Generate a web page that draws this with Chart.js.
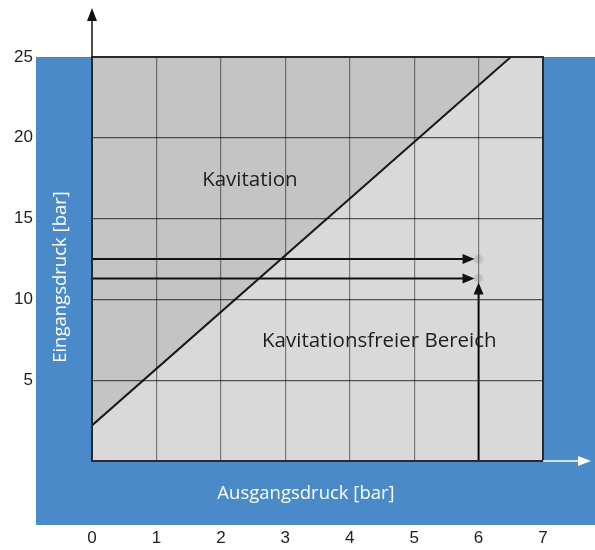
<!DOCTYPE html>
<html>
<head>
<meta charset="utf-8">
<script src="https://cdn.jsdelivr.net/npm/chart.js@4.4.1/dist/chart.umd.min.js"></script>
<style>
  body { margin: 0; background: #fff; }
  #wrap { width: 595px; height: 550px; }
</style>
</head>
<body>
<div id="wrap"><canvas id="chart" width="595" height="550"></canvas></div>
<script>
// axis ticks
var xTicks = [0, 1, 2, 3, 4, 5, 6, 7];
var yTicks = [5, 10, 15, 20, 25];

// cavitation boundary (Ausgangsdruck -> Eingangsdruck)
var boundaryX = [0, 6.5];
var boundaryY = [2.2, 25];

// example reading: outlet pressure 6 bar, two inlet levels
var readX = 6;
var readLevels = [12.5, 11.3];

var BLUE = '#4a8ac9';

var areaPlugin = {
    id: 'area',
    beforeDraw: function (chart) {
        var c = chart.ctx, a = chart.chartArea;
        c.save();
        c.fillStyle = BLUE;
        c.fillRect(a.left - 56, a.top, chart.width - (a.left - 56), a.bottom - a.top + 64);
        c.fillStyle = '#d9d9d9';
        c.fillRect(a.left, a.top, a.right - a.left, a.bottom - a.top);
        c.restore();
    },
    afterDraw: function (chart) {
        var c = chart.ctx, a = chart.chartArea;
        var xs = chart.scales.x, ys = chart.scales.y;
        c.save();
        // plot frame
        c.strokeStyle = '#2a2a2a';
        c.lineWidth = 2;
        c.strokeRect(a.left, a.top, a.right - a.left, a.bottom - a.top);

        // y axis arrow (black, upwards)
        c.fillStyle = '#111';
        c.strokeStyle = '#111';
        c.lineWidth = 1.5;
        c.beginPath();
        c.moveTo(a.left, a.top);
        c.lineTo(a.left, 20);
        c.stroke();
        c.beginPath();
        c.moveTo(a.left, 8);
        c.lineTo(a.left - 5, 21);
        c.lineTo(a.left + 5, 21);
        c.closePath();
        c.fill();

        // x axis arrow (white, right)
        c.fillStyle = '#fff';
        c.strokeStyle = '#fff';
        c.beginPath();
        c.moveTo(a.right, a.bottom);
        c.lineTo(578, a.bottom);
        c.stroke();
        c.beginPath();
        c.moveTo(591, a.bottom);
        c.lineTo(578, a.bottom - 5);
        c.lineTo(578, a.bottom + 5);
        c.closePath();
        c.fill();

        // axis titles
        c.fillStyle = '#fff';
        c.font = "18.5px 'Open Sans', sans-serif";
        c.textAlign = 'center';
        c.textBaseline = 'middle';
        c.fillText('Ausgangsdruck [bar]', 306, a.bottom + 33);
        c.save();
        c.translate(61, 277);
        c.rotate(-Math.PI / 2);
        c.fillText('Eingangsdruck [bar]', 0, 0);
        c.restore();

        // region labels
        c.fillStyle = '#1e1e1e';
        c.font = "20.5px 'Open Sans', sans-serif";
        c.fillText('Kavitation', xs.getPixelForValue(2.45), ys.getPixelForValue(17.4));
        c.fillText('Kavitationsfreier Bereich', xs.getPixelForValue(4.46), ys.getPixelForValue(7.4));

        // arrow heads
        c.fillStyle = '#111';
        var px = xs.getPixelForValue(readX);
        readLevels.forEach(function (v) {
            var py = ys.getPixelForValue(v);
            c.beginPath();
            c.moveTo(px - 4, py);
            c.lineTo(px - 16, py - 5);
            c.lineTo(px - 16, py + 5);
            c.closePath();
            c.fill();
        });
        var low = ys.getPixelForValue(Math.min.apply(null, readLevels));
        c.beginPath();
        c.moveTo(px, low + 4);
        c.lineTo(px - 5, low + 16);
        c.lineTo(px + 5, low + 16);
        c.closePath();
        c.fill();
        c.restore();
    }
};

var datasets = [{
    type: 'line',
    data: boundaryX.map(function (x, i) { return { x: x, y: boundaryY[i] }; }),
    borderColor: '#1a1a1a',
    borderWidth: 2,
    backgroundColor: '#c4c4c4',
    fill: 'end',
    pointRadius: 0,
    order: 3
}];
readLevels.forEach(function (v) {
    datasets.push({
        type: 'line',
        data: [{ x: 0, y: v }, { x: readX - 0.2, y: v }],
        borderColor: '#111',
        borderWidth: 2,
        pointRadius: 0,
        fill: false,
        order: 2
    });
});
datasets.push({
    type: 'line',
    data: [{ x: readX, y: 0 }, { x: readX, y: Math.min.apply(null, readLevels) - 0.8 }],
    borderColor: '#111',
    borderWidth: 2,
    pointRadius: 0,
    fill: false,
    order: 2
});
datasets.push({
    type: 'scatter',
    data: readLevels.map(function (v) { return { x: readX, y: v }; }),
    backgroundColor: '#c2c2c2',
    borderWidth: 0,
    pointRadius: 4.5,
    order: 1
});

var ctx = document.getElementById('chart').getContext('2d');
var chart = new Chart(ctx, {
    type: 'scatter',
    data: { datasets: datasets },
    plugins: [areaPlugin],
    options: {
        responsive: false,
        animation: false,
        devicePixelRatio: 1,
        layout: { autoPadding: false, padding: { top: 57, right: 52, left: 0, bottom: 0 } },
        plugins: { legend: { display: false }, tooltip: { enabled: false } },
        scales: {
            x: {
                type: 'linear',
                min: 0, max: 7,
                afterBuildTicks: function (s) { s.ticks = xTicks.map(function (v) { return { value: v }; }); },
                afterFit: function (s) { s.height = 89; s.paddingLeft = 0; s.paddingRight = 0; },
                grid: { color: 'rgba(0,0,0,0.45)', lineWidth: 1.2, drawTicks: false, z: 1 },
                border: { display: false },
                ticks: { padding: 67, color: '#222', font: { size: 17 } }
            },
            y: {
                type: 'linear',
                min: 0, max: 25,
                afterBuildTicks: function (s) { s.ticks = yTicks.map(function (v) { return { value: v }; }); },
                afterFit: function (s) { s.width = 92; s.paddingTop = 0; s.paddingBottom = 0; },
                grid: { color: 'rgba(0,0,0,0.62)', lineWidth: 1.2, drawTicks: false, z: 1 },
                border: { display: false },
                ticks: { padding: 59, color: '#222', font: { size: 17 } }
            }
        }
    }
});
</script>
</body>
</html>
